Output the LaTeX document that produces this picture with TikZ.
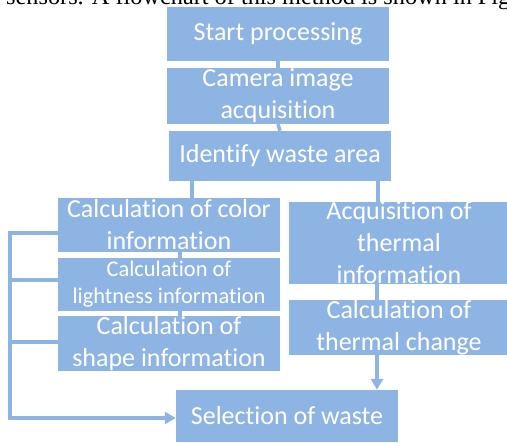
\documentclass[tikz,border=0pt]{standalone}
\usepackage{fontspec}
\setmainfont{Carlito}[Ligatures=NoCommon]
\newfontfamily\captionfont{Liberation Serif}
\usetikzlibrary{arrows.meta}
\definecolor{boxblue}{RGB}{142,180,227}
\begin{document}
\begin{tikzpicture}[x=1pt,y=-1pt,
	stepbox/.style={fill=boxblue, text=white, inner sep=0pt, align=center, minimum width=222pt, font=\fontsize{26}{32}\selectfont},
	smallbox/.style={stepbox, font=\fontsize{22.4}{27}\selectfont},
	link/.style={draw=boxblue, line width=3.5pt},
	arrowlink/.style={link, -{Triangle[length=11pt,width=12pt]}}]
		\useasboundingbox (0,0) rectangle (507,443);
		\clip (0,0) rectangle (507,443);

		\node[anchor=base west, inner sep=0pt, font=\captionfont\fontsize{24.3}{28}\selectfont] (caption) at (6,5) {sensors. A flowchart of this method is shown in Fig};

		\node[stepbox, minimum height=54pt] (start) at (278,34) {Start processing};
		\node[stepbox, minimum height=56pt] (camera) at (278,96) {Camera image\\acquisition};
		\node[stepbox, minimum height=50pt] (identify) at (280,156) {Identify waste area};

		\node[stepbox, minimum height=54pt] (color) at (169,225) {Calculation of color\\information};
		\node[smallbox, minimum height=53pt] (light) at (169,284.5) {Calculation of\\lightness information};
		\node[stepbox, minimum height=53pt] (shape) at (169,343.5) {Calculation of\\shape information};

		\node[stepbox, minimum width=220pt, minimum height=82pt] (thermal) at (399,243) {Acquisition of\\thermal\\information};
		\node[stepbox, minimum width=220pt, minimum height=53pt] (change) at (399,327.5) {Calculation of\\thermal change};

		\node[stepbox, minimum height=52pt] (select) at (287,416) {Selection of waste};

		\coordinate (bus top) at (10,233);
		\coordinate (bus bottom) at (10,418);

		\draw[link] (start.south) -- (camera.north);
		\draw[link] (camera.south) -- (identify.north);
		\draw[link] ([xshift=23pt]identify.south west) -- ([xshift=23pt]identify.south west |- color.north);
		\draw[link] ([xshift=-21pt]thermal.north |- identify.south) -- ([xshift=-21pt]thermal.north);
		\draw[link] ([xshift=11pt]color.south) -- ([xshift=11pt]light.north);
		\draw[link] ([xshift=11pt]light.south) -- ([xshift=11pt]shape.north);
		\draw[link] ([xshift=-22pt]thermal.south) -- ([xshift=-22pt]change.north);
		\draw[arrowlink] ([xshift=-22pt]change.south) -- ([xshift=-22pt]change.south |- select.north);

		\draw[arrowlink] ([yshift=-8pt]color.west) -- (bus top) -- (bus bottom) -- (bus bottom -| select.west);
		\draw[link] ([yshift=4.5pt]light.west) -- ([yshift=4.5pt]light.west -| bus top);
		\draw[link] ([yshift=1.5pt]shape.west) -- ([yshift=1.5pt]shape.west -| bus top);

		\end{tikzpicture}
\end{document}
